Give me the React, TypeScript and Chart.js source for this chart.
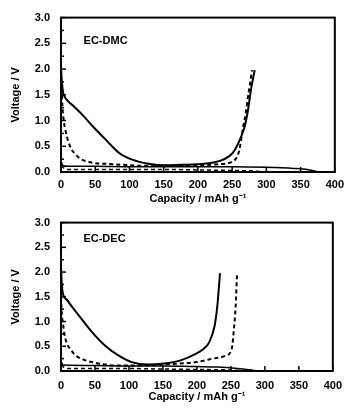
import React, { useEffect, useRef } from "react";
import { Chart, registerables } from "chart.js";

Chart.register(...registerables);

const FONT = "'Liberation Sans', Arial, sans-serif";

const xTicks = [0, 50, 100, 150, 200, 250, 300, 350, 400];
const yTicks = [0, 0.5, 1.0, 1.5, 2.0, 2.5, 3.0];

// EC-DMC
const dmcSolidCap = [0, 1, 3, 6, 10, 20, 30, 47, 66, 85, 104, 128, 152, 175, 199, 220, 237, 251, 261, 268, 273, 278, 283];
const dmcSolidV = [2.05, 1.8, 1.55, 1.45, 1.38, 1.26, 1.13, 0.88, 0.62, 0.37, 0.24, 0.16, 0.13, 0.14, 0.15, 0.18, 0.24, 0.37, 0.62, 0.87, 1.19, 1.64, 1.98];
const dmcDashCap = [0, 1, 2, 4, 7, 10, 15, 20, 28, 40, 50, 66, 90, 120, 150, 200, 230, 250, 260, 266, 270, 273, 276, 279];
const dmcDashV = [1.9, 1.6, 1.3, 1.0, 0.78, 0.62, 0.45, 0.36, 0.26, 0.2, 0.17, 0.16, 0.14, 0.12, 0.12, 0.13, 0.15, 0.2, 0.4, 0.87, 1.15, 1.45, 1.7, 1.98];
const dmcLowSolidCap = [0, 3, 10, 50, 100, 150, 200, 250, 300, 340, 360, 370, 376];
const dmcLowSolidV = [0.2, 0.12, 0.11, 0.11, 0.1, 0.1, 0.1, 0.1, 0.09, 0.07, 0.05, 0.02, 0.0];
const dmcLowDashCap = [0, 5, 10, 50, 100, 150, 200, 250, 280, 300];
const dmcLowDashV = [0.12, 0.07, 0.05, 0.05, 0.05, 0.05, 0.04, 0.03, 0.02, 0.0];

// EC-DEC
const decSolidCap = [0, 1, 3, 8, 15, 27, 46, 65, 85, 104, 128, 152, 175, 199, 210, 218, 226, 230, 234];
const decSolidV = [2.1, 1.8, 1.55, 1.45, 1.32, 1.11, 0.78, 0.51, 0.31, 0.18, 0.13, 0.15, 0.21, 0.35, 0.45, 0.58, 0.91, 1.31, 1.98];
const decDashCap = [0, 1, 3, 5, 8, 15, 22, 35, 46, 60, 80, 100, 130, 160, 199, 223, 242, 250, 252, 254, 257, 259];
const decDashV = [1.5, 1.2, 0.95, 0.75, 0.58, 0.42, 0.31, 0.22, 0.18, 0.14, 0.11, 0.11, 0.12, 0.14, 0.18, 0.25, 0.31, 0.4, 0.51, 0.78, 1.31, 1.95];
const decLowSolidCap = [0, 3, 50, 100, 150, 200, 230, 260, 280, 290];
const decLowSolidV = [0.2, 0.12, 0.11, 0.1, 0.1, 0.09, 0.08, 0.05, 0.02, 0.0];
const decLowDashCap = [0, 5, 10, 50, 100, 150, 200, 250, 270];
const decLowDashV = [0.12, 0.07, 0.05, 0.05, 0.05, 0.04, 0.03, 0.02, 0.0];

const zip = (xs: number[], ys: number[]) => xs.map((x, i) => ({ x, y: ys[i] }));

const framePlugin = {
  id: "frame",
  afterDraw(chart: any, _args: any, opts: any) {
    const { ctx, chartArea, scales } = chart;
    const { left, right, top, bottom } = chartArea;
    const xs = scales.x;
    const ys = scales.y;
    ctx.save();
    ctx.strokeStyle = "#000";
    ctx.lineWidth = 2;
    ctx.strokeRect(left, top, right - left, bottom - top);
    ctx.lineWidth = 1.5;
    for (let i = 0; i <= 12; i++) {
      const v = i * 0.25;
      const py = ys.getPixelForValue(v);
      const len = i % 2 === 0 ? 5 : 3;
      ctx.beginPath();
      ctx.moveTo(left, py);
      ctx.lineTo(left + len, py);
      ctx.stroke();
    }
    for (const v of xTicks) {
      const px = xs.getPixelForValue(v);
      ctx.beginPath();
      ctx.moveTo(px, bottom);
      ctx.lineTo(px, bottom - 5);
      ctx.stroke();
    }
    ctx.fillStyle = "#000";
    ctx.font = `bold 11px ${FONT}`;
    ctx.textAlign = "left";
    ctx.textBaseline = "middle";
    ctx.fillText(opts.label, xs.getPixelForValue(opts.lx), ys.getPixelForValue(opts.ly));
    ctx.restore();
  },
};

type Props = {
  label: string;
  ly: number;
  top: number;
  height: number;
  plotBottom: number;
  xPad: number;
  titlePad: number;
  sets: { cap: number[]; v: number[]; dash: boolean; w: number }[];
};

function Panel(p: Props) {
  const ref = useRef<HTMLCanvasElement>(null);
  useEffect(() => {
    const ctx = ref.current!;
    const chart = new Chart(ctx, {
      type: "scatter",
      data: {
        datasets: p.sets.map((s) => ({
          data: zip(s.cap, s.v),
          showLine: true,
          borderColor: "#000",
          backgroundColor: "#000",
          borderWidth: s.w,
          borderDash: s.dash ? [4, 3] : [],
          pointRadius: 0,
          cubicInterpolationMode: "monotone" as const,
          clip: 3,
        })),
      },
      options: {
        animation: false,
        responsive: false,
        devicePixelRatio: 1,
        layout: { padding: { top: 16, right: 8, left: 0, bottom: 0 } },
        plugins: {
          legend: { display: false },
          tooltip: { enabled: false },
          frame: { label: p.label, lx: 33, ly: p.ly },
        } as any,
        scales: {
          x: {
            type: "linear",
            min: 0,
            max: 400,
            afterBuildTicks: (s: any) => {
              s.ticks = xTicks.map((v) => ({ value: v }));
            },
            afterFit: (s: any) => {
              s.height = p.height - p.plotBottom;
            },
            grid: { display: false, drawTicks: false },
            border: { display: false },
            ticks: {
              color: "#000",
              font: { family: FONT, size: 11, weight: "bold" },
              padding: p.xPad,
              maxRotation: 0,
              autoSkip: false,
            },
            title: {
              display: true,
              text: "Capacity / mAh g⁻¹",
              color: "#000",
              font: { family: FONT, size: 11, weight: "bold" },
              padding: { top: 0, bottom: p.titlePad },
            },
          },
          y: {
            type: "linear",
            min: 0,
            max: 3,
            afterBuildTicks: (s: any) => {
              s.ticks = yTicks.map((v) => ({ value: v }));
            },
            afterFit: (s: any) => {
              s.width = 61;
            },
            grid: { display: false, drawTicks: false },
            border: { display: false },
            ticks: {
              color: "#000",
              font: { family: FONT, size: 11, weight: "bold" },
              padding: 11,
              callback: (v: any) => Number(v).toFixed(1),
            },
            title: {
              display: true,
              text: "Voltage / V",
              color: "#000",
              font: { family: FONT, size: 11, weight: "bold" },
              padding: { top: 9, bottom: 0 },
            },
          },
        },
      },
      plugins: [framePlugin],
    });
    return () => chart.destroy();
  }, []);
  return (
    <canvas
      ref={ref}
      width={350}
      height={p.height}
      style={{ position: "absolute", left: 0, top: p.top, width: 350, height: p.height }}
    />
  );
}

export default function App() {
  return (
    <div style={{ position: "fixed", left: 0, top: 0, width: 350, height: 410, background: "#fff" }}>
      <Panel
        label="EC-DMC"
        ly={2.54}
        top={0}
        height={207}
        plotBottom={172}
        xPad={6}
        titlePad={1}
        sets={[
          { cap: dmcSolidCap, v: dmcSolidV, dash: false, w: 2 },
          { cap: dmcDashCap, v: dmcDashV, dash: true, w: 2 },
          { cap: dmcLowSolidCap, v: dmcLowSolidV, dash: false, w: 1.5 },
          { cap: dmcLowDashCap, v: dmcLowDashV, dash: true, w: 1.5 },
        ]}
      />
      <Panel
        label="EC-DEC"
        ly={2.66}
        top={205}
        height={205}
        plotBottom={166}
        xPad={8}
        titlePad={6}
        sets={[
          { cap: decSolidCap, v: decSolidV, dash: false, w: 2 },
          { cap: decDashCap, v: decDashV, dash: true, w: 2 },
          { cap: decLowSolidCap, v: decLowSolidV, dash: false, w: 1.5 },
          { cap: decLowDashCap, v: decLowDashV, dash: true, w: 1.5 },
        ]}
      />
    </div>
  );
}
